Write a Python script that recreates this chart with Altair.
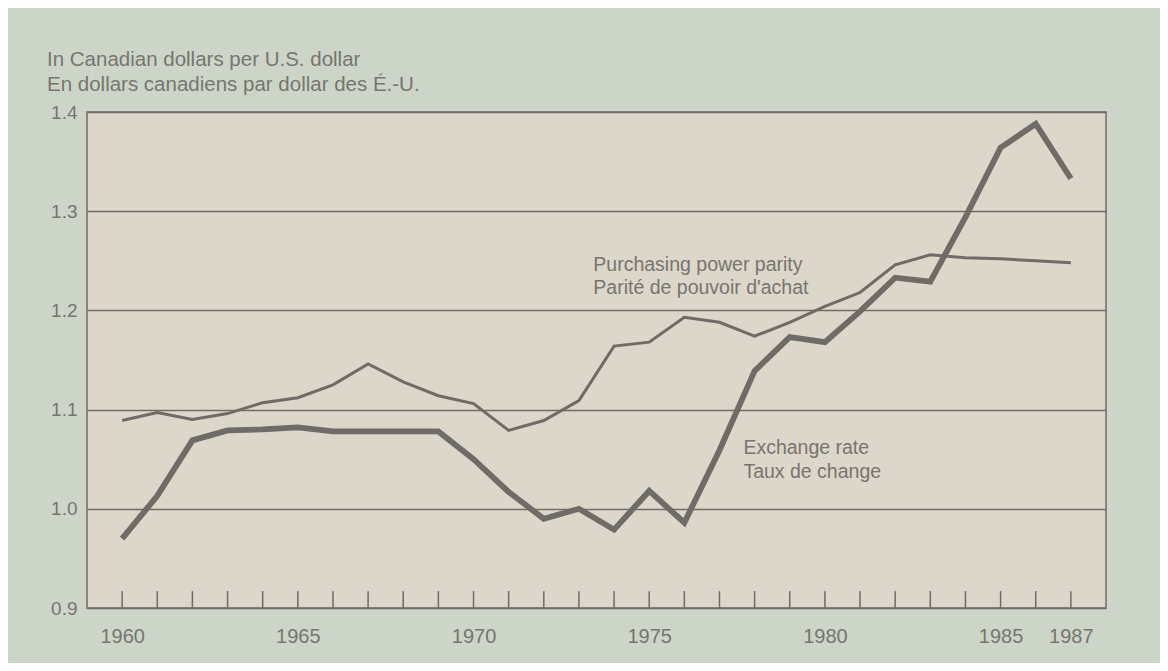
import altair as alt
import pandas as pd

years = list(range(1960, 1988))
exchange = [0.970, 1.013, 1.069, 1.079, 1.080, 1.082, 1.078, 1.078, 1.078, 1.078,
            1.050, 1.017, 0.990, 1.000, 0.979, 1.018, 0.986, 1.059, 1.139, 1.173,
            1.168, 1.199, 1.233, 1.229, 1.294, 1.364, 1.388, 1.333]
ppp = [1.089, 1.097, 1.090, 1.096, 1.107, 1.112, 1.125, 1.146, 1.128, 1.114,
       1.106, 1.079, 1.089, 1.109, 1.164, 1.168, 1.193, 1.188, 1.174, 1.188,
       1.204, 1.218, 1.246, 1.256, 1.253, 1.252, 1.250, 1.248]
x_labels = [1960, 1965, 1970, 1975, 1980, 1985, 1987]
y_ticks = [0.9, 1.0, 1.1, 1.2, 1.3, 1.4]
title_lines = ["In Canadian dollars per U.S. dollar",
               "En dollars canadiens par dollar des É.-U."]
label_text = ["Purchasing power parity", "Parité de pouvoir d'achat",
              "Exchange rate", "Taux de change"]
label_year = [1973.41, 1973.41, 1977.68, 1977.68]
label_value = [1.2458, 1.2226, 1.0613, 1.0371]

FONT = "Liberation Sans"
INK = "#6f6b66"
TEXT = "#77756f"

df_ex = pd.DataFrame({"year": years, "value": exchange})
df_ppp = pd.DataFrame({"year": years, "value": ppp})
df_ticks = pd.DataFrame({"year": years})
df_lab = pd.DataFrame({"year": label_year, "value": label_value, "text": label_text})

xscale = alt.Scale(domain=[1959, 1988], nice=False, zero=False)
yscale = alt.Scale(domain=[0.9, 1.4], nice=False, zero=False)
xaxis = alt.Axis(values=x_labels, format="d", ticks=False, domain=False, grid=False,
                 labelPadding=18, labelFontSize=20, labelFont=FONT, labelColor=TEXT,
                 labelOverlap=False, labelFlush=False, title=None)
yaxis = alt.Axis(values=y_ticks, format=".1f", ticks=False, domain=False, grid=True,
                 gridColor=INK, gridWidth=1.4, labelPadding=10, labelFontSize=19,
                 labelFont=FONT, labelColor=TEXT, title=None)

X = alt.X("year:Q", scale=xscale, axis=xaxis)
Y = alt.Y("value:Q", scale=yscale, axis=yaxis)

ppp_line = alt.Chart(df_ppp).mark_line(color=INK, strokeWidth=3).encode(x=X, y=Y)
ex_line = alt.Chart(df_ex).mark_line(color=INK, strokeWidth=5.8, strokeJoin="miter").encode(x=X, y=Y)
ticks = alt.Chart(df_ticks).mark_rule(color=INK, strokeWidth=1.5).encode(
    x=X,
    y=alt.Y(datum=0.9, scale=yscale, axis=yaxis),
    y2=alt.datum(0.917),
)
labels = alt.Chart(df_lab).mark_text(align="left", baseline="middle", font=FONT,
                                     fontSize=19.5, color=TEXT).encode(
    x=X, y=Y, text="text:N")

chart = alt.layer(ticks, ppp_line, ex_line, labels).properties(
    width=1019,
    height=496,
    autosize=alt.AutoSizeParams(type="none"),
    padding={"left": 79, "top": 104, "right": 54, "bottom": 55},
    background="#ccd5c8",
    title=alt.Title(text=title_lines, anchor="start", frame="group", dx=-40, dy=30, offset=18,
                    baseline="bottom", fontSize=20.5, font=FONT, fontWeight="normal",
                    color=TEXT, lineHeight=25),
).configure_view(stroke=INK, strokeWidth=1.5, fill="#ddd6ca")

chart.save("out.html", embed_options={"renderer": "svg", "actions": False})
